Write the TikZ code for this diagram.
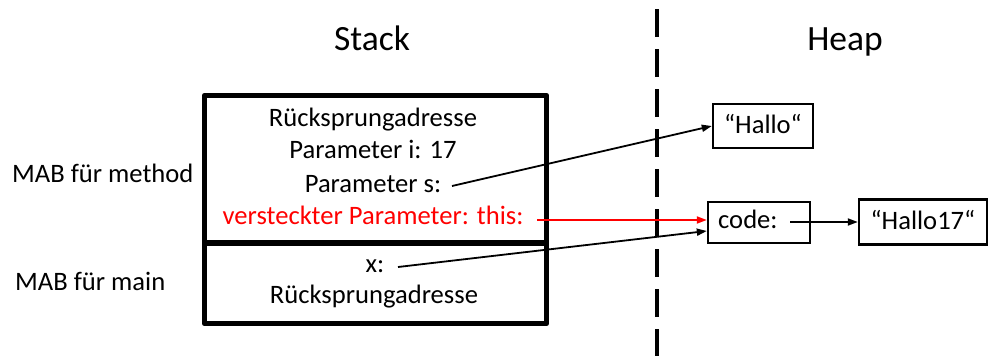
\documentclass[tikz,border=0pt]{standalone}
\usepackage{fontspec}
\setmainfont{Carlito}
\usetikzlibrary{arrows.meta}
\definecolor{hidred}{RGB}{255,0,0}
\begin{document}
\begin{tikzpicture}[x=1pt,y=-1pt,
  txt/.style={font=\fontsize{26.6}{32}\selectfont, inner sep=0pt, anchor=base},
  ttl/.style={font=\fontsize{35.5}{42}\selectfont, inner sep=0pt, anchor=base},
  frame/.style={draw, line width=5.5pt, line join=round, inner sep=0pt, minimum width=342pt},
  heapbox/.style={draw, line width=2.4pt, inner sep=0pt, font=\fontsize{26.6}{32}\selectfont, text height=18pt, text depth=3pt},
  ptr/.style={line width=1.8pt, -{Triangle[length=10pt,width=7pt]}},
  divider/.style={line width=4pt, dash pattern=on 28pt off 12pt}]
\useasboundingbox (0,0) rectangle (989,356);

% titles
\node[ttl] (stack) at (372,50) {Stack};
\node[ttl] (heap) at (845,50) {Heap};

% divider
\coordinate (dtop) at (657,9);
\coordinate (dbot) at (657,356);
\draw[divider] (dtop) -- (dbot);

% stack frames
\node[frame, minimum height=147.5pt] (mabm) at (375.5,169.25) {};
\node[frame, minimum height=80.5pt] (mabmain) at (375.5,283.25) {};

% labels left
\node[txt, anchor=base west] (lm) at (12,182) {MAB für method};
\node[txt, anchor=base west] (lmain) at (15,290) {MAB für main};

% stack texts
\node[txt] (r1) at (373,126) {Rücksprungadresse};
\node[txt] (pi) at (373,158) {Parameter i: 17};
\node[txt] (ps) at (373,192) {Parameter s:};
\node[txt, text=hidred] (pt) at (373,224) {versteckter Parameter: this:};
\node[txt] (px) at (375,272) {x:};
\node[txt] (r2) at (374,303) {Rücksprungadresse};

% heap objects
\node[heapbox, minimum width=100pt, minimum height=44pt] (hallo) at (763,126) {“Hallo“};
\node[heapbox, minimum width=102pt, minimum height=41pt] (code) at (759,222.5) {};
\node[txt, anchor=base west] (codetxt) at (718,228) {code:};
\node[heapbox, minimum width=128pt, minimum height=45pt] (hallo17) at (923,222) {“Hallo17“};

% pointers
\coordinate (sfrom) at (452,186);
\coordinate (tfrom) at (537,220);
\coordinate (xfrom) at (398,267);
\coordinate (cfrom) at (790,222);
\draw[ptr] (sfrom) -- (hallo.west);
\draw[ptr, hidred] (tfrom) -- ([yshift=2.5pt]code.west);
\draw[ptr] (xfrom) -- ([yshift=-8.5pt]code.west);
\draw[ptr] (cfrom) -- (hallo17.west);
\end{tikzpicture}
\end{document}
